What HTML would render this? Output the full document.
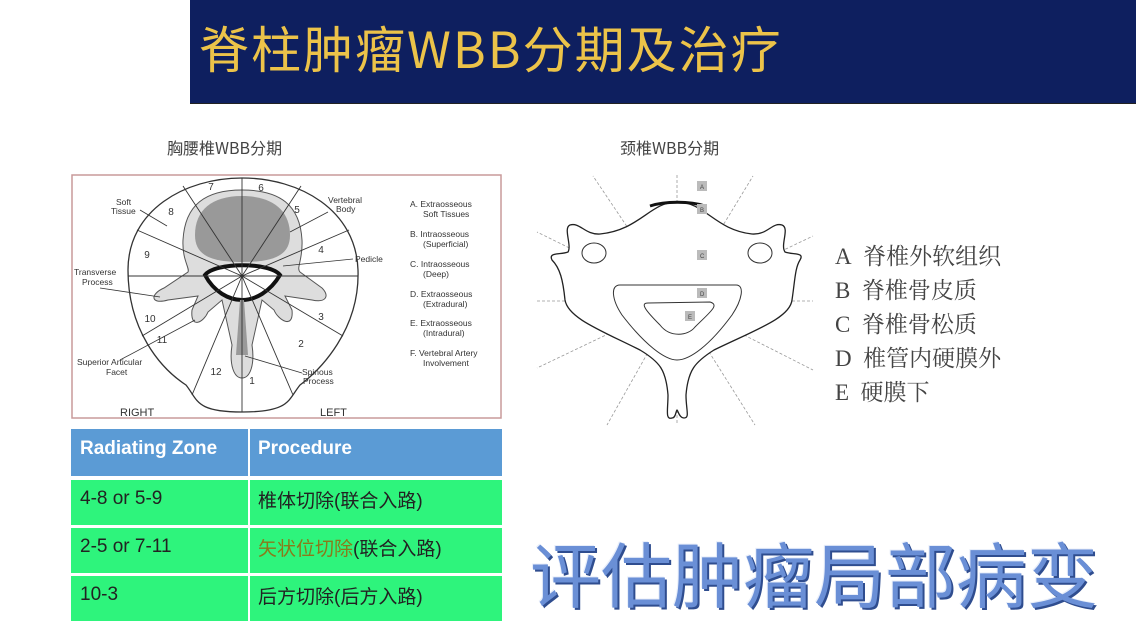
<!DOCTYPE html>
<html><head><meta charset="utf-8"><style>
body{margin:0;width:1136px;height:636px;background:#fff;position:relative;overflow:hidden;font-family:"Liberation Sans","Noto Sans CJK SC",sans-serif}
.a{position:absolute}
</style></head><body>
<div class="a" style="left:190px;top:0;width:946px;height:103px;background:#0e1f5f;border-bottom:1px solid #222"></div>
<div class="a" style="left:199px;top:15px;font-size:50px;color:#ecc349;font-family:'Noto Sans CJK SC',sans-serif;letter-spacing:2px;line-height:64px;white-space:nowrap">脊柱肿瘤WBB分期及治疗</div>
<div class="a" style="left:167px;top:135px;font-size:16px;color:#444;font-family:'Noto Sans CJK SC',sans-serif">胸腰椎WBB分期</div>
<div class="a" style="left:620px;top:135px;font-size:16px;color:#444;font-family:'Noto Sans CJK SC',sans-serif">颈椎WBB分期</div>

<svg class="a" style="left:0;top:0" width="1136" height="636">
<rect x="72" y="175" width="429" height="243" fill="#fff" stroke="#c89a9a" stroke-width="1.5"/>
<path d="M242,178 C300,178 356,210 358,270 C360,330 320,370 300,385 C288,400 290,412 242,412 C195,412 198,400 186,385 C160,368 128,330 128,270 C128,210 185,178 242,178Z" fill="#fff" stroke="#333" stroke-width="1.3"/>
<path d="M242,190 C280,190 300,205 302,240 C303,260 296,268 300,272 L322,288 C330,296 326,303 312,300 L285,296 L292,310 C294,330 278,320 274,310 L262,300 L252,345 C255,365 250,378 242,378 C234,378 229,365 232,345 L222,300 L208,312 C204,322 190,330 192,310 L198,296 L168,300 C150,305 150,294 164,288 L188,272 C190,268 182,260 183,240 C185,205 205,190 242,190Z" fill="#ddd" stroke="#555"/>
<path d="M242,196 C272,196 290,210 290,235 C290,255 275,262 242,262 C210,262 195,255 195,235 C195,210 212,196 242,196Z" fill="#999"/>
<path d="M205,275 C215,262 270,262 280,275 C270,292 255,300 242,300 C229,300 214,292 205,275Z" fill="#fff" stroke="#111" stroke-width="4"/>
<path d="M240,300 L236,355 L248,355 L244,300Z" fill="#999"/>
<g stroke="#333" stroke-width="0.9">
<line x1="242" y1="178" x2="242" y2="412"/><line x1="128" y1="276" x2="358" y2="276"/>
<line x1="242" y1="276" x2="183" y2="186"/><line x1="242" y1="276" x2="301" y2="186"/>
<line x1="242" y1="276" x2="137" y2="230"/><line x1="242" y1="276" x2="349" y2="230"/>
<line x1="242" y1="276" x2="142" y2="336"/><line x1="242" y1="276" x2="343" y2="336"/>
<line x1="242" y1="276" x2="192" y2="395"/><line x1="242" y1="276" x2="293" y2="395"/>
</g>
<g font-size="10" fill="#333" text-anchor="middle">
<text x="211" y="190">7</text><text x="261" y="191">6</text><text x="171" y="215">8</text><text x="297" y="213">5</text>
<text x="147" y="258">9</text><text x="321" y="253">4</text><text x="150" y="322">10</text><text x="321" y="320">3</text>
<text x="162" y="343">11</text><text x="301" y="347">2</text><text x="216" y="375">12</text><text x="252" y="384">1</text>
</g>
<g font-size="8.5" fill="#333">
<text x="116" y="205">Soft</text><text x="111" y="214">Tissue</text>
<text x="328" y="203">Vertebral</text><text x="336" y="212">Body</text>
<text x="355" y="262">Pedicle</text>
<text x="74" y="275">Transverse</text><text x="82" y="285">Process</text>
<text x="77" y="365">Superior Articular</text><text x="106" y="375">Facet</text>
<text x="302" y="375">Spinous</text><text x="303" y="384">Process</text>
<text x="410" y="207">A. Extraosseous</text><text x="423" y="217">Soft Tissues</text>
<text x="410" y="237">B. Intraosseous</text><text x="423" y="247">(Superficial)</text>
<text x="410" y="267">C. Intraosseous</text><text x="423" y="277">(Deep)</text>
<text x="410" y="297">D. Extraosseous</text><text x="423" y="307">(Extradural)</text>
<text x="410" y="326">E. Extraosseous</text><text x="423" y="336">(Intradural)</text>
<text x="410" y="356">F. Vertebral Artery</text><text x="423" y="366">Involvement</text>
</g>
<text x="120" y="416" font-size="11" fill="#333">RIGHT</text><text x="320" y="416" font-size="11" fill="#333">LEFT</text>
<g stroke="#333" stroke-width="0.8"><line x1="140" y1="210" x2="167" y2="226"/><line x1="328" y1="212" x2="290" y2="232"/><line x1="353" y1="259" x2="283" y2="266"/><line x1="100" y1="288" x2="160" y2="297"/><line x1="120" y1="360" x2="195" y2="320"/><line x1="302" y1="373" x2="245" y2="356"/></g>

<g stroke="#999" stroke-width="0.8" stroke-dasharray="3,2" fill="none">
<line x1="677" y1="175" x2="677" y2="425"/><line x1="537" y1="301" x2="813" y2="301"/>
<line x1="677" y1="301" x2="593" y2="176"/><line x1="677" y1="301" x2="753" y2="176"/>
<line x1="677" y1="301" x2="537" y2="232"/><line x1="677" y1="301" x2="813" y2="236"/>
<line x1="677" y1="301" x2="537" y2="368"/><line x1="677" y1="301" x2="813" y2="370"/>
<line x1="677" y1="301" x2="607" y2="425"/><line x1="677" y1="301" x2="755" y2="425"/>
</g>
<path d="M677,202 C650,202 640,230 600,234 C585,235 580,222 570,225 C563,228 572,245 568,252 C560,255 548,252 552,260 C560,268 563,280 565,300 C568,318 600,330 640,350 C660,362 666,370 668,395 C668,410 665,420 672,418 C676,418 676,410 677,410 C678,410 679,418 684,418 C690,418 686,410 686,395 C688,370 695,362 714,350 C755,330 790,318 792,300 C795,280 795,268 800,260 C805,252 793,255 785,252 C780,245 790,228 782,225 C772,222 768,235 752,234 C715,230 705,202 677,202Z" fill="#fff" stroke="#222" stroke-width="1.3"/>
<path d="M650,206 C665,201 690,201 705,206" fill="none" stroke="#111" stroke-width="3"/>
<ellipse cx="594" cy="253" rx="12" ry="10" fill="none" stroke="#333"/><ellipse cx="760" cy="253" rx="12" ry="10" fill="none" stroke="#333"/>
<path d="M620,285 L736,285 C745,285 742,300 732,315 C710,345 690,360 677,360 C665,360 645,345 622,315 C612,300 610,285 620,285Z" fill="none" stroke="#333"/>
<path d="M648,303 L710,302 C720,305 710,312 695,327 C688,336 670,338 660,325 C645,310 640,303 648,303Z" fill="none" stroke="#333"/>
<g fill="#bbb"><rect x="697" y="181" width="10" height="10"/><rect x="697" y="204" width="10" height="10"/><rect x="697" y="250" width="10" height="10"/><rect x="697" y="288" width="10" height="10"/><rect x="685" y="311" width="10" height="10"/></g>
<g font-size="6" fill="#444"><text x="700" y="189">A</text><text x="700" y="212">B</text><text x="700" y="258">C</text><text x="700" y="296">D</text><text x="688" y="319">E</text></g>
</svg>

<div class="a" style="left:835px;top:240px;font-size:23px;line-height:34px;color:#444;font-family:'Liberation Serif','Noto Serif CJK SC',serif">A&nbsp; 脊椎外软组织<br>B&nbsp; 脊椎骨皮质<br>C&nbsp; 脊椎骨松质<br>D&nbsp; 椎管内硬膜外<br>E&nbsp; 硬膜下</div>

<div class="a" style="left:71px;top:429px;width:431px;height:193px;font-size:19px;color:#222">
<div class="a" style="left:0;top:0;width:177px;height:47px;background:#5b9bd5"></div>
<div class="a" style="left:179px;top:0;width:252px;height:47px;background:#5b9bd5"></div>
<div class="a" style="left:9px;top:9px;color:#fff;font-weight:bold">Radiating Zone</div>
<div class="a" style="left:187px;top:9px;color:#fff;font-weight:bold">Procedure</div>
<div class="a" style="left:0;top:51px;width:177px;height:45px;background:#2ef47c"></div><div class="a" style="left:179px;top:51px;width:252px;height:45px;background:#2ef47c"></div>
<div class="a" style="left:0;top:99px;width:177px;height:45px;background:#2ef47c"></div><div class="a" style="left:179px;top:99px;width:252px;height:45px;background:#2ef47c"></div>
<div class="a" style="left:0;top:147px;width:177px;height:45px;background:#2ef47c"></div><div class="a" style="left:179px;top:147px;width:252px;height:45px;background:#2ef47c"></div>
<div class="a" style="left:9px;top:59px">4-8 or 5-9</div><div class="a" style="left:187px;top:57px">椎体切除(联合入路)</div>
<div class="a" style="left:9px;top:107px">2-5 or 7-11</div><div class="a" style="left:187px;top:105px"><span style="color:#8a7a1a">矢状位切除</span>(联合入路)</div>
<div class="a" style="left:9px;top:155px">10-3</div><div class="a" style="left:187px;top:153px">后方切除(后方入路)</div>
</div>

<div class="a" style="left:530px;top:530px;font-size:71px;line-height:84px;color:#6a8fd6;font-family:'Noto Sans CJK SC',sans-serif;text-shadow:2px 2px 0 #2f4d8f,-1px -1px 0 #e8eefa;white-space:nowrap">评估肿瘤局部病变</div>
</body></html>
